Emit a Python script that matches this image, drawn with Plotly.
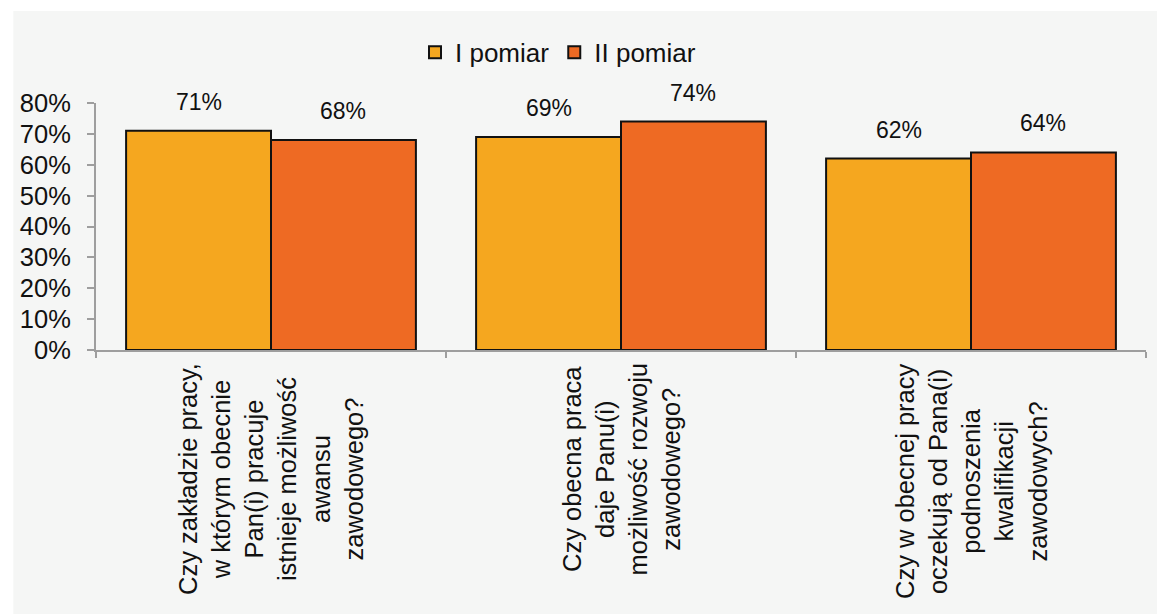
import plotly.graph_objects as go

categories = [
    "Czy zakładzie pracy,<br>w którym obecnie<br>Pan(i) pracuje<br>istnieje możliwość<br>awansu<br>zawodowego?",
    "Czy obecna praca<br>daje Panu(i)<br>możliwość rozwoju<br>zawodowego?",
    "Czy w obecnej pracy<br>oczekują od Pana(i)<br>podnoszenia<br>kwalifikacji<br>zawodowych?",
]
series_names = ["I pomiar", "II pomiar"]
pomiar_1 = [0.71, 0.69, 0.62]
pomiar_2 = [0.68, 0.74, 0.64]
y_ticks = [0, 0.1, 0.2, 0.3, 0.4, 0.5, 0.6, 0.7, 0.8]

colors = ["#F5A71F", "#EE6A23"]
FONT = "Liberation Sans, Arial, sans-serif"
BG = "#F5F6F5"
AXIS = "#9E9E9E"

# page has an 8px body margin; figure is sized to fill the rest
W, H = 1157, 606
L, R, T, B = 84, 19, 95, 264
plot_w = W - L - R
plot_h = H - T - B

BARGAP = 0.172

fig = go.Figure()
idx = list(range(len(categories)))
for name, vals, col in zip(series_names, [pomiar_1, pomiar_2], colors):
    fig.add_trace(go.Bar(
        x=idx, y=vals, name=name,
        marker=dict(color=col, line=dict(color="#111111", width=2)),
    ))

# data labels above bars
bar_w = (1 - BARGAP) / 2
annotations = []
for s, vals in enumerate([pomiar_1, pomiar_2]):
    off = (s - 0.5) * bar_w
    for i, v in enumerate(vals):
        annotations.append(dict(
            x=i + off, y=v, xref="x", yref="y",
            text=f"{round(v * 100)}%", showarrow=False,
            yanchor="bottom", xanchor="center", yshift=14,
            font=dict(family=FONT, size=23, color="#111111"),
        ))

# category labels (rotated, centred lines)
for i, c in enumerate(categories):
    annotations.append(dict(
        x=i, y=0, xref="x", yref="paper",
        text=c, showarrow=False, textangle=-90, align="center",
        xanchor="center", yanchor="top", yshift=-11,
        font=dict(family=FONT, size=25.5, color="#111111"),
    ))

# background panel (white strip on top/left)
bx0 = (1 - L) / plot_w
bx1 = (W - L) / plot_w
by0 = -(H - (T + plot_h)) / plot_h
by1 = ((T + plot_h) - 3) / plot_h

fig.update_layout(
    width=W, height=H,
    margin=dict(l=L, r=R, t=T, b=B, pad=0),
    paper_bgcolor="white",
    plot_bgcolor="rgba(0,0,0,0)",
    barmode="group", bargap=BARGAP, bargroupgap=0,
    font=dict(family=FONT, color="#111111"),
    showlegend=True,
    legend=dict(
        orientation="h", x=0.44, y=1.205, xanchor="center", yanchor="middle",
        font=dict(family=FONT, size=26, color="#111111"),
        bgcolor="rgba(0,0,0,0)", itemwidth=30, traceorder="normal",
    ),
    xaxis=dict(
        type="linear", range=[-0.5, len(categories) - 0.5],
        tickvals=[i - 0.5 for i in range(len(categories) + 1)],
        showticklabels=False, ticks="outside", ticklen=6, tickwidth=2,
        tickcolor=AXIS, showline=True, linecolor=AXIS, linewidth=2,
        showgrid=False, zeroline=False,
    ),
    yaxis=dict(
        range=[0, 0.8], tickvals=y_ticks, tickformat=".0%",
        ticks="outside", ticklen=7, tickwidth=2, tickcolor=AXIS,
        showline=True, linecolor=AXIS, linewidth=2, showgrid=False,
        zeroline=False, ticklabelstandoff=11,
        tickfont=dict(family=FONT, size=25.5, color="#111111"),
    ),
    shapes=[dict(
        type="rect", xref="paper", yref="paper",
        x0=bx0, x1=bx1, y0=by0, y1=by1,
        fillcolor=BG, line=dict(width=0), layer="below",
    )],
    annotations=annotations,
)

fig.write_html("out.html")
